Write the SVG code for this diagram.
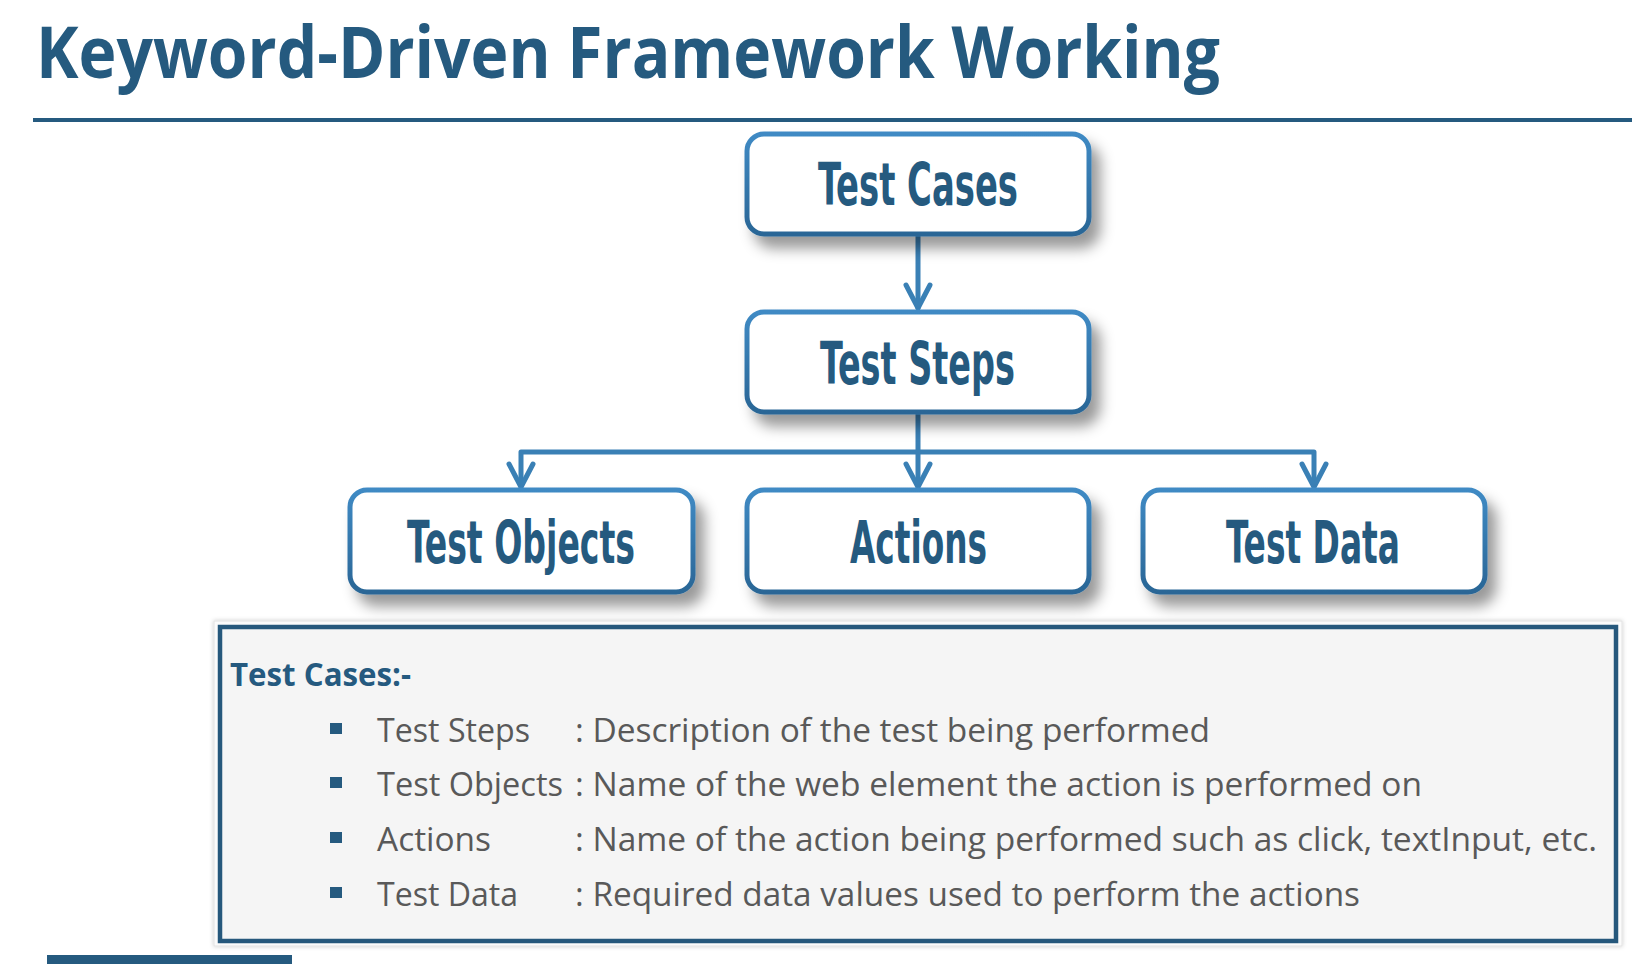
<svg xmlns="http://www.w3.org/2000/svg" width="1632" height="964" viewBox="0 0 1632 964">
<defs>
<style>
.title{font-family:"Open Sans","Noto Sans","Liberation Sans",sans-serif;font-weight:700;font-size:72px;fill:#255A7F}
.box{fill:#FFFFFF;stroke:url(#bstroke);stroke-width:5;filter:url(#shadow)}
.lbl{font-family:"DejaVu Sans Condensed","Liberation Sans",sans-serif;font-weight:700;font-size:58px;fill:#255A7F;text-anchor:start}
.conn{fill:none;stroke:#3A80B5;stroke-width:5;stroke-linejoin:round;stroke-linecap:round}
.head{fill:none;stroke:#3A80B5;stroke-width:5;stroke-linejoin:round;stroke-linecap:round}
.hdr{font-family:"Open Sans","Noto Sans","Liberation Sans",sans-serif;font-weight:700;font-size:33px;fill:#255A7F}
.body{font-family:"Open Sans","Noto Sans","Liberation Sans",sans-serif;font-size:33px;fill:#595959}
.bul{fill:#255A7F}
</style>
<linearGradient id="bstroke" x1="0" y1="0" x2="0" y2="1">
<stop offset="0" stop-color="#3F8AC4"/>
<stop offset="1" stop-color="#2A6696"/>
</linearGradient>
<filter id="shadow" x="-10%" y="-20%" width="135%" height="170%">
<feDropShadow dx="9" dy="12" stdDeviation="7" flood-color="#000000" flood-opacity="0.4"/>
</filter>
<filter id="pshadow" x="-5%" y="-10%" width="110%" height="120%">
<feDropShadow dx="0" dy="0" stdDeviation="2" flood-color="#000000" flood-opacity="0.2"/>
</filter>
</defs>
<rect width="1632" height="964" fill="#FFFFFF"/>

<g id="title">
<text class="title" x="36" y="78" textLength="1184" lengthAdjust="spacingAndGlyphs">Keyword-Driven Framework Working</text>
<line x1="33" y1="120" x2="1632" y2="120" stroke="#255A7F" stroke-width="4"/>
</g>

<g id="connectors">
<path class="conn" d="M918,234 V308"/>
<polyline class="head" points="906,285 918,308 930,285"/>
<path class="conn" d="M918,413 V486"/>
<path class="conn" d="M521,486 V452 H1314 V486"/>
<polyline class="head" points="509,464 521,487 533,464"/>
<polyline class="head" points="906,464 918,487 930,464"/>
<polyline class="head" points="1302,464 1314,487 1326,464"/>
</g>

<g id="node-test-cases">
<rect class="box" x="747" y="134" width="342" height="100" rx="17"/>
<text class="lbl" x="818" y="205" textLength="200" lengthAdjust="spacingAndGlyphs">Test Cases</text>
</g>
<g id="node-test-steps">
<rect class="box" x="747" y="312" width="342" height="100" rx="17"/>
<text class="lbl" x="820" y="384" textLength="195" lengthAdjust="spacingAndGlyphs">Test Steps</text>
</g>
<g id="node-test-objects">
<rect class="box" x="350" y="490" width="343" height="102" rx="17"/>
<text class="lbl" x="407" y="563" textLength="228" lengthAdjust="spacingAndGlyphs">Test Objects</text>
</g>
<g id="node-actions">
<rect class="box" x="747" y="490" width="342" height="102" rx="17"/>
<text class="lbl" x="850" y="563" textLength="137" lengthAdjust="spacingAndGlyphs">Actions</text>
</g>
<g id="node-test-data">
<rect class="box" x="1143" y="490" width="342" height="102" rx="17"/>
<text class="lbl" x="1226" y="563" textLength="174" lengthAdjust="spacingAndGlyphs">Test Data</text>
</g>

<g id="legend">
<rect x="214" y="621" width="1408" height="325" fill="#FBFBFB" stroke="#E2E2E2" stroke-width="1" filter="url(#pshadow)"/>
<rect x="220" y="627" width="1396" height="314" fill="#F5F5F5" stroke="#26587C" stroke-width="4.5"/>
<text class="hdr" x="230" y="686" textLength="181" lengthAdjust="spacingAndGlyphs">Test Cases:-</text>
<rect class="bul" x="330" y="723" width="12" height="11"/>
<rect class="bul" x="330" y="777" width="12" height="11"/>
<rect class="bul" x="330" y="832" width="12" height="11"/>
<rect class="bul" x="330" y="887" width="12" height="11"/>
<text class="body" x="377" y="742" textLength="153" lengthAdjust="spacingAndGlyphs">Test Steps</text>
<text class="body" x="575" y="742" textLength="635" lengthAdjust="spacingAndGlyphs">: Description of the test being performed</text>
<text class="body" x="377" y="796" textLength="186" lengthAdjust="spacingAndGlyphs">Test Objects</text>
<text class="body" x="575" y="796" textLength="847" lengthAdjust="spacingAndGlyphs">: Name of the web element the action is performed on</text>
<text class="body" x="377" y="851" textLength="114" lengthAdjust="spacingAndGlyphs">Actions</text>
<text class="body" x="575" y="851" textLength="1022" lengthAdjust="spacingAndGlyphs">: Name of the action being performed such as click, textInput, etc.</text>
<text class="body" x="377" y="906" textLength="141" lengthAdjust="spacingAndGlyphs">Test Data</text>
<text class="body" x="575" y="906" textLength="785" lengthAdjust="spacingAndGlyphs">: Required data values used to perform the actions</text>
</g>

<rect id="footer-bar" x="47" y="955" width="245" height="9" fill="#255A7F"/>
</svg>
